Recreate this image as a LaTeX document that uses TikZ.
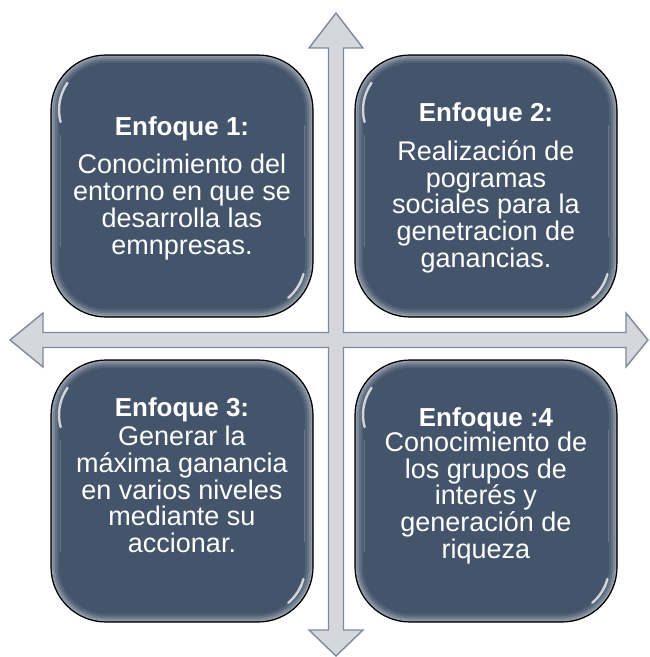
\documentclass[tikz,border=0pt]{standalone}
\usepackage{fontspec}
\setmainfont{Liberation Sans}
\usetikzlibrary{positioning}

\definecolor{boxfill}{HTML}{44546A}
\definecolor{crossfill}{HTML}{D5D7DC}
\definecolor{crossline}{HTML}{7D8A9E}

% glassy rim of one box
\newcommand{\bevel}[1]{%
  \foreach \inset/\mixv in {1.6/42,3.4/30,5.2/18,7/8}
    \draw[draw=white!\mixv!boxfill, line width=2pt, rounded corners={55pt-\inset pt}]
      ([xshift=\inset pt,yshift=-\inset pt]#1.north west) rectangle ([xshift=-\inset pt,yshift=\inset pt]#1.south east);
  \draw[white, opacity=.75, line width=2.4pt, line cap=round]
    ([xshift=9.6pt,yshift=-67pt]#1.north west) arc[start angle=195, end angle=145, radius=47pt];
  \draw[white, opacity=.75, line width=2.4pt, line cap=round]
    ([xshift=-9.6pt,yshift=43pt]#1.south east) arc[start angle=-15, end angle=-50, radius=47pt];
  \draw[white, opacity=.2, line width=1pt]
    ([xshift=9pt,yshift=-80pt]#1.north west) -- ([xshift=9pt,yshift=70pt]#1.south west);
  \draw[white, opacity=.2, line width=1pt]
    ([xshift=-9pt,yshift=-70pt]#1.north east) -- ([xshift=-9pt,yshift=80pt]#1.south east);
  \draw[black, line width=1.2pt, rounded corners=55pt] (#1.north west) rectangle (#1.south east);
}

\begin{document}
\begin{tikzpicture}[x=1pt, y=-1pt, node distance=42pt and 42pt,
  enfoque/.style={rectangle, fill=boxfill, rounded corners=55pt, outer sep=0pt,
    minimum width=262pt, minimum height=262pt},
  txt/.style={text=white, align=center, inner sep=0pt, font=\fontsize{27}{26.7}\selectfont},
  crossarrow/.style={fill=crossfill, draw=crossline, line width=1.4pt, line join=miter}]

\useasboundingbox (0,0) rectangle (649,657);

% the cross of arrows
\draw[crossarrow] (336,13) -- (363,48) -- (343.5,48) -- (343.5,332.5) -- (626,332.5)
  -- (626,313) -- (648,340) -- (626,367) -- (626,347.5) -- (343.5,347.5)
  -- (343.5,630) -- (363,630) -- (336,656) -- (309,630) -- (328.5,630)
  -- (328.5,347.5) -- (43,347.5) -- (43,367) -- (10,340) -- (43,313)
  -- (43,332.5) -- (328.5,332.5) -- (328.5,48) -- (309,48) -- cycle;

\node[enfoque] (B1) at (182,186) {};
\node[enfoque] (B2) [right=42pt of B1] {};
\node[enfoque] (B3) [below=43pt of B1] {};
\node[enfoque] (B4) [below=43pt of B2] {};

\bevel{B1}
\bevel{B2}
\bevel{B3}
\bevel{B4}

\node[txt] (T1) at ([yshift=-2pt]B1) {{\bfseries\fontsize{26}{26.7}\selectfont Enfoque 1:}\\[12pt]
  Conocimiento del\\ entorno en que se\\ desarrolla las\\ emnpresas.};
\node[txt] (T2) at ([yshift=-2pt]B2) {{\bfseries\fontsize{26}{26.7}\selectfont Enfoque 2:}\\[12pt]
  Realización de\\ pogramas\\ sociales para la\\ genetracion de\\ ganancias.};
\node[txt] (T3) at ([yshift=16pt]B3) {{\bfseries\fontsize{26}{26.7}\selectfont Enfoque 3:}\\[3pt]
  Generar la\\ máxima ganancia\\ en varios niveles\\ mediante su\\ accionar.};
\node[txt] (T4) at ([yshift=5pt]B4) {{\bfseries\fontsize{26}{26.7}\selectfont Enfoque :4}\\[-2pt]
  Conocimiento de\\ los grupos de\\ interés y\\ generación de\\ riqueza};

\end{tikzpicture}
\end{document}
